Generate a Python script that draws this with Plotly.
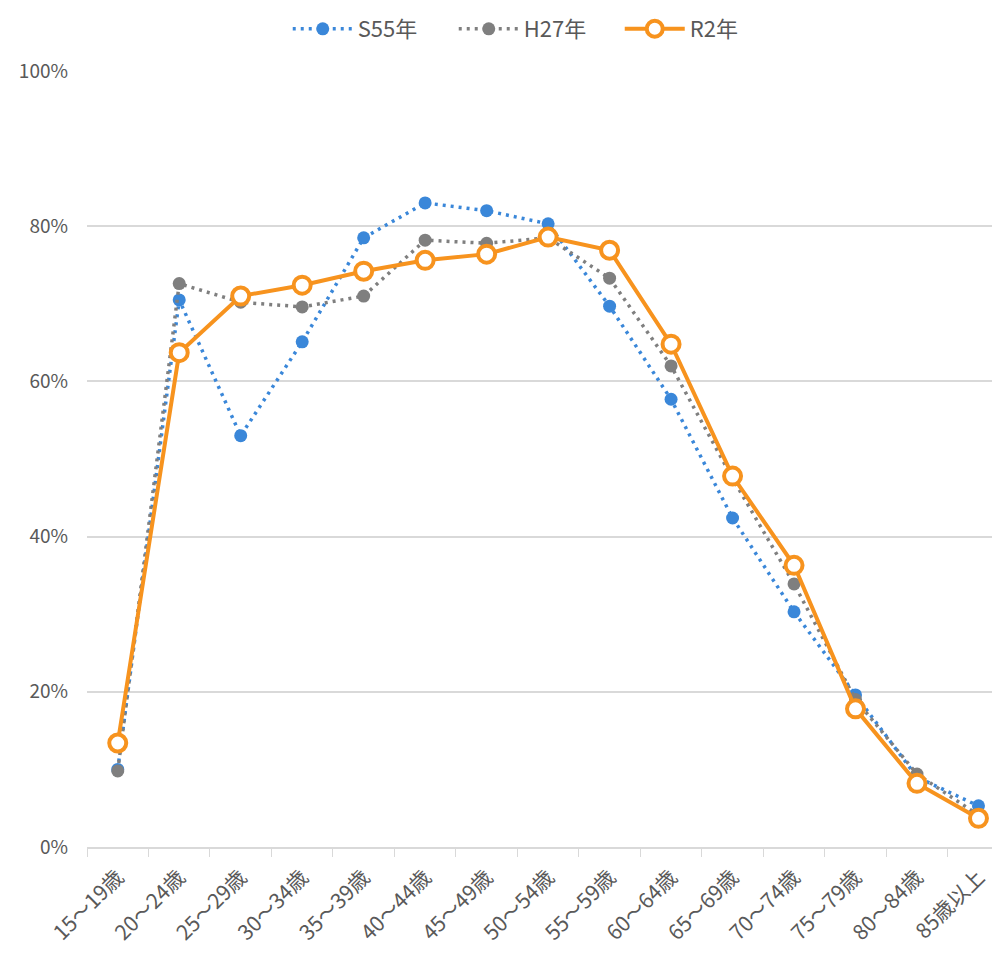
import plotly.graph_objects as go

categories = ["15～19歳", "20～24歳", "25～29歳", "30～34歳", "35～39歳", "40～44歳", "45～49歳",
              "50～54歳", "55～59歳", "60～64歳", "65～69歳", "70～74歳", "75～79歳", "80～84歳", "85歳以上"]
s55 = [10.0, 70.5, 53.0, 65.1, 78.5, 83.0, 82.0, 80.3, 69.7, 57.7, 42.4, 30.3, 19.6, 9.0, 5.3]
h27 = [9.8, 72.6, 70.2, 69.6, 71.0, 78.2, 77.8, 78.5, 73.3, 62.0, 47.5, 33.9, 19.0, 9.4, 4.1]
r2 = [13.4, 63.7, 71.0, 72.4, 74.2, 75.6, 76.4, 78.6, 76.9, 64.8, 47.8, 36.3, 17.8, 8.2, 3.7]
series_names = ["S55年", "H27年", "R2年"]

FONT = "Noto Sans CJK JP"
TXT = "#595959"

fig = go.Figure()
fig.add_trace(go.Scatter(
    x=categories, y=s55, name=series_names[0], mode="lines+markers",
    line=dict(color="#3A87D9", width=3.5, dash="3px,5px"),
    marker=dict(color="#3A87D9", size=13, symbol="circle")))
fig.add_trace(go.Scatter(
    x=categories, y=h27, name=series_names[1], mode="lines+markers",
    line=dict(color="#7F7F7F", width=3.5, dash="3px,5px"),
    marker=dict(color="#7F7F7F", size=13, symbol="circle")))
fig.add_trace(go.Scatter(
    x=categories, y=r2, name=series_names[2], mode="lines+markers",
    line=dict(color="#F7931E", width=4),
    marker=dict(color="white", size=17, symbol="circle",
                line=dict(color="#F7931E", width=4))))

fig.update_layout(
    width=992, height=948,
    margin=dict(l=79, r=0, t=63, b=109),
    paper_bgcolor="white", plot_bgcolor="white",
    font=dict(family=FONT, color=TXT, size=19),
    legend=dict(orientation="h", xref="container", yref="container",
                x=0.282, xanchor="left", y=1.0, yanchor="top",
                entrywidth=91, entrywidthmode="pixels",
                font=dict(size=22, color=TXT), itemwidth=60),
    xaxis=dict(type="category", range=[-0.5, 14.35],
               showgrid=False, showline=True, linecolor="#D9D9D9", linewidth=1.5,
               ticks="outside", tickson="boundaries", ticklen=8, tickcolor="#D9D9D9",
               ticklabelstandoff=8,
               tickangle=-45, tickfont=dict(size=21, color=TXT, family=FONT)),
    yaxis=dict(range=[0, 100], dtick=20, ticksuffix="%",
               showgrid=True, gridcolor="#D9D9D9", gridwidth=1.5,
               zeroline=False, showline=False, ticks="", ticklabelstandoff=18,
               tickfont=dict(size=19, color=TXT, family=FONT)),
)

fig.write_html("out.html")
